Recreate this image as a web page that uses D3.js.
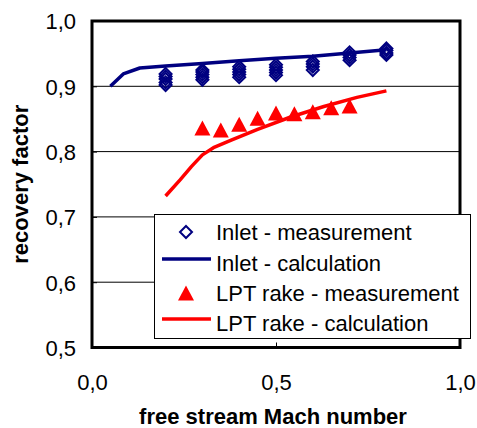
<!DOCTYPE html>
<html>
<head>
<meta charset="utf-8">
<script src="https://cdnjs.cloudflare.com/ajax/libs/d3/7.8.5/d3.min.js"></script>
<style>
  body { margin: 0; background: #ffffff; }
  svg { display: block; font-family: 'Liberation Sans', Arial, sans-serif; }
</style>
</head>
<body>
<div id="chart"></div>
<script>

// data
var x_ticks = [0, 0.5, 1.0];
var y_ticks = [0.5, 0.6, 0.7, 0.8, 0.9, 1.0];

var inlet_meas_mach = [0.2, 0.3, 0.4, 0.5, 0.6, 0.7, 0.8];
var inlet_meas_values = [
  [0.902, 0.906, 0.911, 0.915, 0.919],
  [0.910, 0.914, 0.918, 0.922, 0.925],
  [0.914, 0.918, 0.922, 0.926, 0.930],
  [0.917, 0.921, 0.925, 0.929, 0.933],
  [0.925, 0.930, 0.934, 0.938],
  [0.940, 0.944, 0.948, 0.952],
  [0.948, 0.951, 0.955, 0.958]
];

var inlet_calc_mach = [0.05, 0.085, 0.13, 0.2, 0.3, 0.4, 0.5, 0.6, 0.7, 0.8];
var inlet_calc_values = [0.900, 0.919, 0.928, 0.931, 0.935, 0.939, 0.943, 0.946, 0.951, 0.956];

var lpt_meas_mach = [0.3, 0.35, 0.4, 0.45, 0.5, 0.55, 0.6, 0.65, 0.7];
var lpt_meas_values = [0.836, 0.833, 0.842, 0.851, 0.859, 0.858, 0.861, 0.867, 0.870];

var lpt_calc_mach = [0.2, 0.24, 0.27, 0.3, 0.33, 0.38, 0.45, 0.54, 0.63, 0.72, 0.8];
var lpt_calc_values = [0.732, 0.757, 0.777, 0.795, 0.806, 0.818, 0.834, 0.853, 0.869, 0.883, 0.893];

var legend_labels = ['Inlet - measurement', 'Inlet - calculation', 'LPT rake - measurement', 'LPT rake - calculation'];

var navy = '#000080';
var red = '#ff0000';

var width = 477;
var height = 428;

var plot = {left: 92, right: 460, top: 21, bottom: 347.5};

var comma_locale = d3.formatLocale({decimal: ',', thousands: '.', grouping: [3], currency: ['', '']});
var fmt = comma_locale.format('.1f');

var x = d3.scaleLinear().domain([0, 1]).range([plot.left, plot.right]);
var y = d3.scaleLinear().domain([0.5, 1.0]).range([plot.bottom, plot.top]);

var svg = d3.select('#chart')
  .append('svg')
  .attr('width', width)
  .attr('height', height);

// gridlines
svg.append('g')
  .selectAll('line')
  .data(y_ticks.slice(1, -1))
  .enter()
  .append('line')
  .attr('x1', plot.left)
  .attr('x2', plot.right)
  .attr('y1', function(d){ return y(d); })
  .attr('y2', function(d){ return y(d); })
  .style('stroke', '#000')
  .style('stroke-width', 1);

// axes, ticks point inwards
var x_axis = d3.axisBottom(x)
  .tickValues(x_ticks)
  .tickSize(-5)
  .tickFormat(fmt);

var y_axis = d3.axisLeft(y)
  .tickValues(y_ticks)
  .tickSize(-5)
  .tickFormat(fmt);

var gx = svg.append('g')
  .attr('transform', 'translate(0,' + plot.bottom + ')')
  .call(x_axis);

gx.select('.domain').remove();
gx.selectAll('line').style('stroke', '#000');
gx.selectAll('text')
  .attr('y', 42)
  .attr('dy', 0)
  .style('font-size', '22px')
  .style('font-family', 'Liberation Sans, Arial, sans-serif')
  .style('fill', '#000');

var gy = svg.append('g')
  .attr('transform', 'translate(' + plot.left + ',0)')
  .call(y_axis);

gy.select('.domain').remove();
gy.selectAll('line').style('stroke', '#000');
gy.selectAll('text')
  .attr('x', -16)
  .attr('dy', '0.36em')
  .style('font-size', '22px')
  .style('font-family', 'Liberation Sans, Arial, sans-serif')
  .style('fill', '#000');

// plot area border
svg.append('rect')
  .attr('x', plot.left)
  .attr('y', plot.top)
  .attr('width', plot.right - plot.left)
  .attr('height', plot.bottom - plot.top)
  .style('fill', 'none')
  .style('stroke', '#000')
  .style('stroke-width', 3);

// axis titles
svg.append('text')
  .attr('x', 273)
  .attr('y', 424)
  .attr('text-anchor', 'middle')
  .style('font-size', '22px')
  .style('font-weight', 'bold')
  .text('free stream Mach number');

svg.append('text')
  .attr('transform', 'translate(28,' + ((plot.top + plot.bottom) / 2) + ') rotate(-90)')
  .attr('text-anchor', 'middle')
  .style('font-size', '22px')
  .style('font-weight', 'bold')
  .text('recovery factor');

// lines
var line = d3.line()
  .x(function(d){ return x(d[0]); })
  .y(function(d){ return y(d[1]); });

svg.append('path')
  .datum(d3.zip(inlet_calc_mach, inlet_calc_values))
  .attr('d', line)
  .style('fill', 'none')
  .style('stroke', navy)
  .style('stroke-width', 3.5)
  .style('stroke-linejoin', 'round');

svg.append('path')
  .datum(d3.zip(lpt_calc_mach, lpt_calc_values))
  .attr('d', line)
  .style('fill', 'none')
  .style('stroke', red)
  .style('stroke-width', 3.5)
  .style('stroke-linejoin', 'round');

// marker shapes
function diamond_path(r){
  return 'M0,' + (-r) + 'L' + r + ',0L0,' + r + 'L' + (-r) + ',0Z';
}

function triangle_path(w, h){
  return 'M0,' + (-h / 2) + 'L' + (w / 2) + ',' + (h / 2) + 'L' + (-w / 2) + ',' + (h / 2) + 'Z';
}

// inlet measurement diamonds
var inlet_points = [];
inlet_meas_mach.forEach(function(m, i){
  inlet_meas_values[i].forEach(function(v){
    inlet_points.push([m, v]);
  });
});

svg.append('g')
  .selectAll('path')
  .data(inlet_points)
  .enter()
  .append('path')
  .attr('transform', function(d){ return 'translate(' + x(d[0]) + ',' + y(d[1]) + ')'; })
  .attr('d', diamond_path(6))
  .style('fill', 'none')
  .style('stroke', navy)
  .style('stroke-width', 2);

// LPT rake triangles
svg.append('g')
  .selectAll('path')
  .data(d3.zip(lpt_meas_mach, lpt_meas_values))
  .enter()
  .append('path')
  .attr('transform', function(d){ return 'translate(' + x(d[0]) + ',' + y(d[1]) + ')'; })
  .attr('d', triangle_path(16, 15))
  .style('fill', red);

// legend
var legend = svg.append('g');

legend.append('rect')
  .attr('x', 154.5)
  .attr('y', 214.5)
  .attr('width', 316)
  .attr('height', 124)
  .style('fill', '#fff')
  .style('stroke', '#000')
  .style('stroke-width', 1);

var row_y = [232, 263, 293, 323];

legend.selectAll('text')
  .data(legend_labels)
  .enter()
  .append('text')
  .attr('x', 216)
  .attr('y', function(d, i){ return row_y[i] + 8; })
  .style('font-size', '22px')
  .text(function(d){ return d; });

legend.append('path')
  .attr('transform', 'translate(186,' + row_y[0] + ')')
  .attr('d', diamond_path(6))
  .style('fill', 'none')
  .style('stroke', navy)
  .style('stroke-width', 2);

legend.append('line')
  .attr('x1', 162).attr('x2', 211)
  .attr('y1', row_y[1] - 4).attr('y2', row_y[1] - 4)
  .style('stroke', navy)
  .style('stroke-width', 3.5);

legend.append('path')
  .attr('transform', 'translate(186,' + row_y[2] + ')')
  .attr('d', triangle_path(16, 15))
  .style('fill', red);

legend.append('line')
  .attr('x1', 162).attr('x2', 211)
  .attr('y1', row_y[3] - 4).attr('y2', row_y[3] - 4)
  .style('stroke', red)
  .style('stroke-width', 3.5);

</script>
</body>
</html>
